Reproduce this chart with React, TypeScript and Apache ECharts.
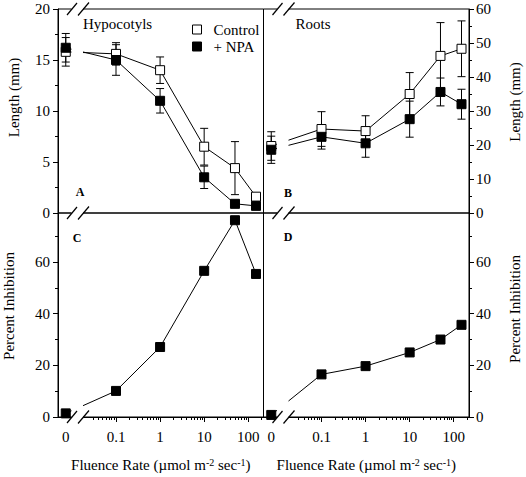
import React, { useEffect, useRef } from 'react';
import * as echarts from 'echarts';

// ---- data ----
const FLUENCE = [0, 0.1, 1, 10, 50, 150];
const X_TICK_VALUES = [0, 0.1, 1, 10, 100];
const X_TICK_LABELS = ['0', '0.1', '1', '10', '100'];
const X_MINOR_VALUES = [
  0.03, 0.04, 0.05, 0.06, 0.07, 0.08, 0.09,
  0.2, 0.3, 0.4, 0.5, 0.6, 0.7, 0.8, 0.9,
  2, 3, 4, 5, 6, 7, 8, 9,
  20, 30, 40, 50, 60, 70, 80, 90,
  200,
];

const HYPO_CONTROL = [15.8, 15.6, 14.0, 6.5, 4.4, 1.6];
const HYPO_CONTROL_ERR = [1.4, 1.1, 1.3, 1.8, 2.6, 0.3];
const HYPO_NPA = [16.2, 15.0, 11.0, 3.5, 0.9, 0.7];
const HYPO_NPA_ERR = [1.4, 1.5, 1.2, 1.1, 0.3, 0.2];

const ROOT_CONTROL = [19.7, 24.7, 24.1, 35.0, 46.2, 48.3];
const ROOT_CONTROL_ERR = [4.2, 5.1, 4.5, 6.3, 9.8, 8.2];
const ROOT_NPA = [18.6, 22.4, 20.5, 27.6, 35.6, 32.0];
const ROOT_NPA_ERR = [4.0, 3.6, 4.1, 5.3, 4.1, 4.4];

const INHIB_HYPO = [1.4, 10.1, 27.1, 56.6, 76.2, 55.4];
const INHIB_ROOT = [0.8, 16.5, 19.7, 25.0, 30.0, 35.7];

const HYPO_TICKS = [0, 5, 10, 15, 20];
const ROOT_TICKS = [0, 10, 20, 30, 40, 50, 60];
const INHIB_TICKS = [0, 20, 40, 60];
const INHIB_MINOR = [10, 30, 50, 70];

// ---- layout / style ----
const FONT = 'Liberation Serif';
const ZERO_POS = -2.14; // where the zero dose is drawn (left of the axis break)
const X_MIN = -2.316;
const X_MAX = 2.346;
const PANEL_L = [58, 263.5];
const PANEL_W = 205.5;
const TOP = 9;
const H = 204;

const toX = (f: number) => (f === 0 ? ZERO_POS : Math.log10(f));
const pts = (vals: number[]) => vals.map((v, i) => [toX(FLUENCE[i]), v]);
const errs = (vals: number[], e: number[]) =>
  vals.map((v, i) => [toX(FLUENCE[i]), v - e[i], v + e[i]]);

const labelStyle = { fontSize: 15, fontFamily: FONT, color: '#000' };
const black = { color: '#000', width: 1 };

function xLabel(v: number) {
  let best = 0;
  let bd = Infinity;
  X_TICK_VALUES.forEach((t, i) => {
    const d = Math.abs(toX(t) - v);
    if (d < bd) {
      bd = d;
      best = i;
    }
  });
  return X_TICK_LABELS[best];
}

const errorRender = (params: any, api: any) => {
  const x = api.value(0);
  const lo = api.coord([x, api.value(1)]);
  const hi = api.coord([x, api.value(2)]);
  const w = 4;
  const st = { stroke: '#000', lineWidth: 1 };
  return {
    type: 'group',
    children: [
      { type: 'line', shape: { x1: lo[0], y1: lo[1], x2: hi[0], y2: hi[1] }, style: st },
      { type: 'line', shape: { x1: lo[0] - w, y1: lo[1], x2: lo[0] + w, y2: lo[1] }, style: st },
      { type: 'line', shape: { x1: hi[0] - w, y1: hi[1], x2: hi[0] + w, y2: hi[1] }, style: st },
    ],
  };
};

function buildOption() {
  const grids = [
    { left: PANEL_L[0], top: TOP, width: PANEL_W, height: H },
    { left: PANEL_L[1], top: TOP, width: PANEL_W, height: H },
    { left: PANEL_L[0], top: TOP + H, width: PANEL_W, height: H },
    { left: PANEL_L[1], top: TOP + H, width: PANEL_W, height: H },
  ].map((g) => ({ ...g, show: true, borderColor: '#000', borderWidth: 1, backgroundColor: 'transparent', containLabel: false }));

  const plainX = (gi: number) => ({
    type: 'value', gridIndex: gi, min: X_MIN, max: X_MAX,
    axisLine: { show: false, onZero: false }, axisTick: { show: false }, axisLabel: { show: false }, splitLine: { show: false },
  });
  const xName = 'Fluence Rate (µmol m{sup|-2} sec{sup|-1})';
  const mainX = (gi: number) => ({
    type: 'value', gridIndex: gi, min: X_MIN, max: X_MAX, position: 'bottom',
    axisLine: { show: true, onZero: false, lineStyle: black },
    axisTick: { show: true, length: 5, lineStyle: black, customValues: X_TICK_VALUES.filter((v) => v > 0).map(toX) },
    axisLabel: { show: true, margin: 12, ...labelStyle, customValues: X_TICK_VALUES.map(toX), formatter: xLabel },
    splitLine: { show: false },
    name: xName, nameLocation: 'middle', nameGap: 40,
    nameTextStyle: {
      ...labelStyle,
      rich: { sup: { fontSize: 10, fontFamily: FONT, color: '#000', verticalAlign: 'top', lineHeight: 10 } },
    },
  });
  const minorX = (gi: number) => ({
    type: 'value', gridIndex: gi, min: X_MIN, max: X_MAX, position: 'bottom',
    axisLine: { show: false, onZero: false },
    axisTick: { show: true, length: 3, lineStyle: black, customValues: X_MINOR_VALUES.map(toX) },
    axisLabel: { show: false }, splitLine: { show: false },
  });

  const yBase = (gi: number, pos: string) => ({
    type: 'value', gridIndex: gi, position: pos,
    axisLine: { show: true, onZero: false, lineStyle: black },
    splitLine: { show: false },
  });
  const nameCommon = (name: string, padL: number, gap: number) => ({
    name, nameLocation: 'middle', nameRotate: 90, nameGap: gap,
    nameTextStyle: { ...labelStyle, padding: [0, 0, 0, padL] },
  });

  const yAxes = [
    {
      ...yBase(0, 'left'), min: HYPO_TICKS[0], max: HYPO_TICKS[HYPO_TICKS.length - 1], interval: 5,
      axisTick: { show: true, length: 5, lineStyle: black },
      minorTick: { show: true, splitNumber: 2, length: 3, lineStyle: black },
      axisLabel: { ...labelStyle, margin: 8 },
      ...nameCommon('Length (mm)', 27, 37),
    },
    {
      ...yBase(1, 'right'), min: ROOT_TICKS[0], max: ROOT_TICKS[ROOT_TICKS.length - 1], interval: 10,
      axisTick: { show: true, length: 5, lineStyle: black },
      minorTick: { show: true, splitNumber: 2, length: 3, lineStyle: black },
      axisLabel: { ...labelStyle, margin: 7 },
      ...nameCommon('Length (mm)', 18, 38),
    },
    {
      ...yBase(2, 'left'), min: 0, max: 79,
      axisTick: { show: true, length: 5, lineStyle: black, customValues: INHIB_TICKS },
      axisLabel: { ...labelStyle, margin: 8, customValues: INHIB_TICKS },
      ...nameCommon('Percent Inhibition', 18, 42),
    },
    {
      ...yBase(3, 'right'), min: 0, max: 79,
      axisTick: { show: true, length: 5, lineStyle: black, customValues: INHIB_TICKS },
      axisLabel: { ...labelStyle, margin: 7, customValues: INHIB_TICKS },
      ...nameCommon('Percent Inhibition', 12, 38),
    },
    {
      type: 'value', gridIndex: 2, position: 'left', min: 0, max: 79,
      axisLine: { show: false, onZero: false }, axisLabel: { show: false }, splitLine: { show: false },
      axisTick: { show: true, length: 3, lineStyle: black, customValues: INHIB_MINOR },
    },
    {
      type: 'value', gridIndex: 3, position: 'right', min: 0, max: 79,
      axisLine: { show: false, onZero: false }, axisLabel: { show: false }, splitLine: { show: false },
      axisTick: { show: true, length: 3, lineStyle: black, customValues: INHIB_MINOR },
    },
  ];

  const lineSeries = (name: string, idx: number, data: number[], open: boolean) => ({
    type: 'line', name, xAxisIndex: idx, yAxisIndex: idx, data: pts(data),
    symbol: 'rect', symbolSize: 9, z: 3,
    itemStyle: open ? { color: '#fff', borderColor: '#000', borderWidth: 1 } : { color: '#000', borderColor: '#000', borderWidth: 1 },
    lineStyle: black,
  });
  const errSeries = (idx: number, data: number[], e: number[]) => ({
    type: 'custom', xAxisIndex: idx, yAxisIndex: idx, data: errs(data, e),
    encode: { x: 0, y: [1, 2] }, renderItem: errorRender, z: 2, silent: true,
  });

  const series = [
    errSeries(0, HYPO_CONTROL, HYPO_CONTROL_ERR),
    errSeries(0, HYPO_NPA, HYPO_NPA_ERR),
    errSeries(1, ROOT_CONTROL, ROOT_CONTROL_ERR),
    errSeries(1, ROOT_NPA, ROOT_NPA_ERR),
    lineSeries('Control', 0, HYPO_CONTROL, true),
    lineSeries('+ NPA', 0, HYPO_NPA, false),
    lineSeries('Control', 1, ROOT_CONTROL, true),
    lineSeries('+ NPA', 1, ROOT_NPA, false),
    lineSeries('Inhibition hypocotyls', 2, INHIB_HYPO, false),
    lineSeries('Inhibition roots', 3, INHIB_ROOT, false),
  ];

  // axis-break graphics
  const graphics: any[] = [];
  PANEL_L.forEach((L) => {
    graphics.push({ type: 'rect', shape: { x: L + 13.5, y: 0, width: 11.5, height: 424 }, style: { fill: '#fff' }, z: 100, silent: true });
    [TOP, TOP + H, TOP + 2 * H].forEach((y) => {
      graphics.push({ type: 'line', shape: { x1: L + 9, y1: y + 6, x2: L + 19, y2: y - 6 }, style: { stroke: '#000', lineWidth: 1.2 }, z: 101, silent: true });
      graphics.push({ type: 'line', shape: { x1: L + 20, y1: y + 6.5, x2: L + 31, y2: y - 6.5 }, style: { stroke: '#000', lineWidth: 1.2 }, z: 101, silent: true });
    });
  });
  const txt = (text: string, x: number, y: number, bold: boolean, size: number, align: string) => ({
    type: 'text', x, y, z: 102, silent: true,
    style: { text, fill: '#000', font: `${bold ? 'bold ' : ''}${size}px ${FONT}`, textAlign: align, textVerticalAlign: 'middle' },
  });
  graphics.push(txt('Hypocotyls', 83, 24, false, 15, 'left'));
  graphics.push(txt('Roots', 295.5, 24, false, 15, 'left'));
  graphics.push(txt('A', 80, 192, true, 12, 'center'));
  graphics.push(txt('B', 288, 193, true, 12, 'center'));
  graphics.push(txt('C', 77, 238, true, 12, 'center'));
  graphics.push(txt('D', 288, 237, true, 12, 'center'));

  return {
    animation: false,
    backgroundColor: '#fff',
    textStyle: { fontFamily: FONT },
    grid: grids,
    xAxis: [plainX(0), plainX(1), mainX(2), mainX(3), minorX(2), minorX(3)],
    yAxis: yAxes,
    legend: {
      orient: 'vertical', left: 187, top: 17, itemWidth: 9, itemHeight: 9, itemGap: 2,
      formatter: '{t|{name}}',
      textStyle: {
        fontSize: 15, fontFamily: FONT, color: '#000',
        rich: { t: { fontSize: 15, fontFamily: FONT, color: '#000', padding: [0, 0, 0, 7] } },
      },
      data: [
        { name: 'Control', icon: 'rect', itemStyle: { color: '#fff', borderColor: '#000', borderWidth: 1 } },
        { name: '+ NPA', icon: 'rect', itemStyle: { color: '#000', borderColor: '#000', borderWidth: 1 } },
      ],
      selectedMode: false,
    },
    graphic: { elements: graphics },
    series,
  };
}

export default function App() {
  const ref = useRef<HTMLDivElement>(null);
  useEffect(() => {
    if (!ref.current) return;
    const chart = echarts.init(ref.current, undefined, { renderer: 'svg' });
    chart.setOption(buildOption() as any);
    return () => chart.dispose();
  }, []);
  return (
    <div
      ref={ref}
      style={{ position: 'absolute', left: 0, top: 0, width: 526, height: 477, background: '#fff' }}
    />
  );
}
